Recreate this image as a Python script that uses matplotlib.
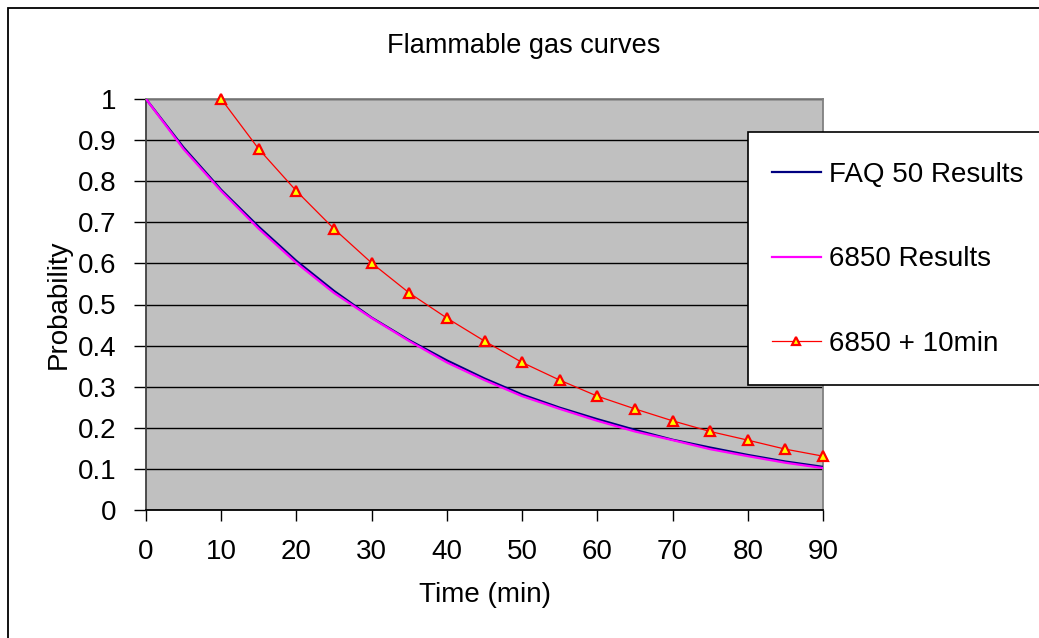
import numpy as np
import matplotlib
matplotlib.use('Agg')
import matplotlib.pyplot as plt
from matplotlib.patches import Rectangle

plt.rcParams['font.family'] = ['Liberation Sans', 'DejaVu Sans']

# data
t = [0, 5, 10, 15, 20, 25, 30, 35, 40, 45, 50, 55, 60, 65, 70, 75, 80, 85, 90]
faq50 = [1.0, 0.882, 0.779, 0.689, 0.606, 0.533, 0.468, 0.413, 0.364, 0.320,
         0.281, 0.249, 0.221, 0.195, 0.171, 0.152, 0.134, 0.118, 0.105]
r6850 = [1.0, 0.878, 0.776, 0.684, 0.601, 0.528, 0.467, 0.411, 0.359, 0.316,
         0.277, 0.246, 0.217, 0.191, 0.170, 0.148, 0.131, 0.115, 0.102]
t_plus10 = [10, 15, 20, 25, 30, 35, 40, 45, 50, 55, 60, 65, 70, 75, 80, 85, 90]
r6850_plus10 = [1.0, 0.878, 0.776, 0.684, 0.601, 0.528, 0.467, 0.411, 0.359,
                0.316, 0.277, 0.246, 0.217, 0.191, 0.170, 0.148, 0.131]

W, H = 1039, 638
fig = plt.figure(figsize=(W / 100, H / 100), dpi=100)
ax = fig.add_axes([146 / W, 1 - 510 / H, (823 - 146) / W, (510 - 99) / H])
ax.set_facecolor('#c0c0c0')

l1, = ax.plot(t, faq50, color='#000080', lw=1.6, label='FAQ 50 Results', zorder=3)
l2, = ax.plot(t, r6850, color='#ff00ff', lw=1.6, label='6850 Results', zorder=4)
l3, = ax.plot(t_plus10, r6850_plus10, color='#ff0000', lw=0.9, marker='^',
              markersize=6.5, markerfacecolor='#ffff00', markeredgecolor='#ff0000',
              markeredgewidth=1.6, label='6850 + 10min', zorder=5, clip_on=False)

ax.set_xlim(0, 90)
ax.set_ylim(0, 1)
ax.set_xticks(np.arange(0, 91, 10))
ax.set_yticks(np.arange(0, 1.01, 0.1))
ax.set_yticklabels(['0', '0.1', '0.2', '0.3', '0.4', '0.5', '0.6', '0.7', '0.8', '0.9', '1'])
ax.yaxis.grid(True, color='black', lw=1)
ax.set_axisbelow(True)
ax.tick_params(axis='both', labelsize=20, direction='out', color='black', width=1)
ax.tick_params(axis='y', length=9, pad=12)
ax.tick_params(axis='x', length=8, pad=13)
ax.spines['top'].set_color('#808080')
ax.spines['right'].set_color('#808080')
ax.spines['left'].set_color('#404040')
ax.spines['bottom'].set_color('black')
for s in ax.spines.values():
    s.set_linewidth(1.3)

ax.set_xlabel('Time (min)', fontsize=20, labelpad=12)
ax.set_ylabel('Probability', fontsize=20, labelpad=5)
fig.text(524 / W, 1 - 46 / H, 'Flammable gas curves', fontsize=19.5, ha='center', va='center')

# outer chart border and legend box
fig.patches.append(Rectangle((8 / W, -0.05), 1.1, 1 - 8 / H + 0.05, transform=fig.transFigure,
                             fill=False, edgecolor='black', lw=1.3))
fig.patches.append(Rectangle((748 / W, 1 - 385 / H), 0.5, (385 - 132) / H,
                             transform=fig.transFigure, facecolor='white',
                             edgecolor='black', lw=1.2, zorder=10))

leg = fig.legend(handles=[l1, l2, l3], loc='upper left',
                 bbox_to_anchor=(772 / W, 1 - 162 / H), frameon=False,
                 fontsize=20, handlelength=1.75, handletextpad=0.3,
                 labelspacing=2.1, borderpad=0, borderaxespad=0)
leg.set_zorder(11)
for h in leg.legend_handles:
    h.set_markersize(6)

fig.savefig('out.png', dpi=100)
